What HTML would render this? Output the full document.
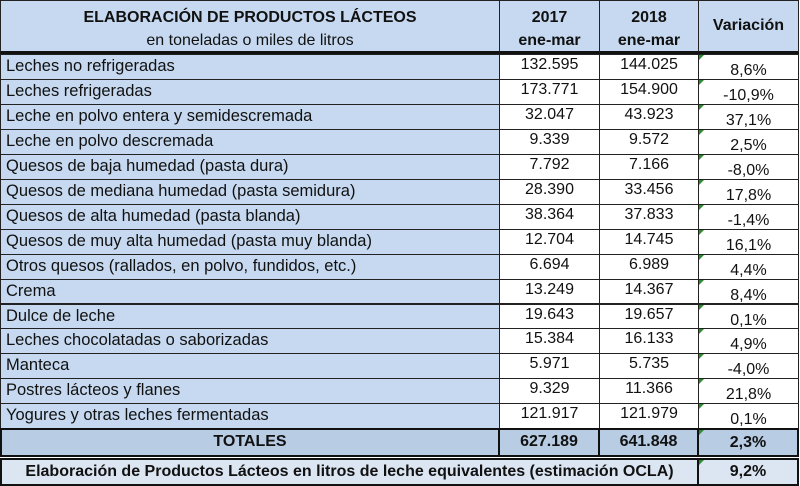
<!DOCTYPE html>
<html><head><meta charset="utf-8">
<style>
html,body{margin:0;padding:0;background:#fff;}
#t{position:relative;width:800px;height:486px;font-family:"Liberation Sans",sans-serif;color:#111;overflow:hidden;}
.c{position:absolute;box-sizing:border-box;border:1px solid #222;white-space:nowrap;overflow:hidden;}
.lab{background:#c6d9f0;font-size:16.5px;padding-left:5px;line-height:23px;}
.num{background:#fff;font-size:16px;text-align:center;line-height:19px;}
.var{background:#fff;font-size:16px;text-align:center;line-height:31px;}
.var::before{content:"";position:absolute;left:0;top:0;border-top:5px solid #2e8b2e;border-right:5px solid transparent;}
.hd{background:#c6d9f0;font-weight:bold;font-size:16px;text-align:center;}
.tot{background:#b8cce4;font-weight:bold;font-size:16px;text-align:center;line-height:23px;}
.thick{border-width:2px;border-color:#111;}
</style></head><body>
<div id="t">
  <div class="c hd" style="left:0;top:0;width:500px;height:54px;border-bottom:3px solid #111;line-height:23px;padding-top:5px;">ELABORACIÓN DE PRODUCTOS LÁCTEOS<br><span style="font-weight:normal">en toneladas o miles de litros</span></div>
  <div class="c hd" style="left:499px;top:0;width:101px;height:54px;border-bottom:3px solid #111;line-height:23px;padding-top:5px;">2017<br>ene-mar</div>
  <div class="c hd" style="left:599px;top:0;width:100px;height:54px;border-bottom:3px solid #111;line-height:23px;padding-top:5px;">2018<br>ene-mar</div>
  <div class="c hd" style="left:698px;top:0;width:101px;height:54px;border-bottom:3px solid #111;line-height:50px;">Variación</div>
</div>
<script>
const labels=["Leches no refrigeradas","Leches refrigeradas","Leche en polvo entera y semidescremada","Leche en polvo descremada","Quesos de baja humedad (pasta dura)","Quesos de mediana humedad (pasta semidura)","Quesos de alta humedad (pasta blanda)","Quesos de muy alta humedad (pasta muy blanda)","Otros quesos (rallados, en polvo, fundidos, etc.)","Crema","Dulce de leche","Leches chocolatadas o saborizadas","Manteca","Postres lácteos y flanes","Yogures y otras leches fermentadas"];
const v2017=["132.595","173.771","32.047","9.339","7.792","28.390","38.364","12.704","6.694","13.249","19.643","15.384","5.971","9.329","121.917"];
const v2018=["144.025","154.900","43.923","9.572","7.166","33.456","37.833","14.745","6.989","14.367","19.657","16.133","5.735","11.366","121.979"];
const variation=["8,6%","-10,9%","37,1%","2,5%","-8,0%","17,8%","-1,4%","16,1%","4,4%","8,4%","0,1%","4,9%","-4,0%","21,8%","0,1%"];
const totals=["627.189","641.848","2,3%"];
const ocla="9,2%";
const t=document.getElementById('t');
const top0=54,rh=24.95;
function cell(cls,x,y,w,h,txt){const d=document.createElement('div');d.className='c '+cls;d.style.left=x+'px';d.style.top=y+'px';d.style.width=w+'px';d.style.height=h+'px';d.textContent=txt;t.appendChild(d);return d;}
for(let i=0;i<labels.length;i++){
  const y=top0+i*rh,h=rh+1;
  let a=cell('lab',0,y,500,h,labels[i]);
  
  
  let b=cell('num',499,y,101,h,v2017[i]);
  
  
  let c=cell('num',599,y,100,h,v2018[i]);
  
  
  let d=cell('var',698,y,101,h,variation[i]);
  
  
}
const ty=428;
let e=cell('tot thick',0,ty,500,29,'TOTALES');


let f=cell('tot thick',498,ty,102,29,totals[0]);


let g=cell('tot thick',598,ty,101,29,totals[1]);


let h=cell('tot thick var',697,ty,102,29,totals[2]);
h.style.lineHeight='25px';


let k=cell('tot thick',0,458,699,28,'Elaboración de Productos Lácteos en litros de leche equivalentes (estimación OCLA)');
k.style.background='#dce6f2';


let m=cell('tot thick var',697,458,102,28,ocla);
m.style.background='#dce6f2';m.style.lineHeight='24px';


</script>
</body></html>
